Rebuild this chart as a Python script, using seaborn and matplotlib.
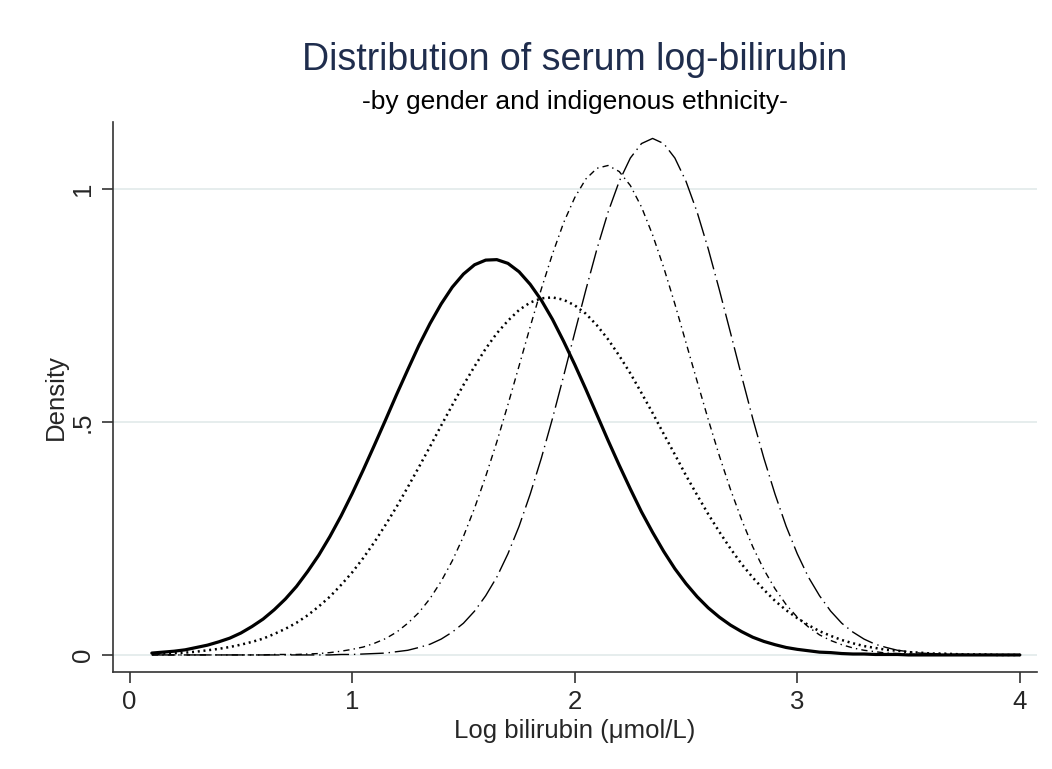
import numpy as np
import pandas as pd
import seaborn as sns
import matplotlib.pyplot as plt

# log bilirubin grid (umol/L, log scale) and the densities
x_vals = [round(0.10 + 0.05 * i, 2) for i in range(79)]

dens_solid = [0.004, 0.006, 0.008, 0.011, 0.016, 0.021, 0.028, 0.036, 0.047, 0.061,
              0.077, 0.097, 0.120, 0.147, 0.179, 0.214, 0.254, 0.298, 0.346, 0.397,
              0.450, 0.504, 0.559, 0.612, 0.664, 0.711, 0.753, 0.789, 0.817, 0.837,
              0.847, 0.848, 0.840, 0.822, 0.795, 0.761, 0.720, 0.673, 0.623, 0.570,
              0.515, 0.460, 0.407, 0.356, 0.307, 0.263, 0.222, 0.185, 0.153, 0.125,
              0.101, 0.081, 0.064, 0.050, 0.038, 0.029, 0.022, 0.016, 0.012, 0.009,
              0.006, 0.005, 0.003, 0.002, 0.002, 0.001, 0.001, 0.001, 0.000, 0.000,
              0.000, 0.000, 0.000, 0.000, 0.000, 0.000, 0.000, 0.000, 0.000]

dens_dotted = [0.002, 0.003, 0.004, 0.005, 0.007, 0.010, 0.013, 0.017, 0.022, 0.028,
               0.035, 0.045, 0.056, 0.069, 0.085, 0.104, 0.125, 0.150, 0.177, 0.208,
               0.242, 0.279, 0.318, 0.360, 0.403, 0.447, 0.492, 0.536, 0.579, 0.619,
               0.657, 0.690, 0.717, 0.740, 0.756, 0.765, 0.767, 0.762, 0.750, 0.732,
               0.707, 0.677, 0.642, 0.604, 0.562, 0.519, 0.474, 0.430, 0.385, 0.343,
               0.302, 0.264, 0.228, 0.195, 0.166, 0.140, 0.116, 0.096, 0.079, 0.064,
               0.051, 0.041, 0.032, 0.025, 0.019, 0.015, 0.011, 0.009, 0.006, 0.005,
               0.003, 0.003, 0.002, 0.001, 0.001, 0.001, 0.000, 0.000, 0.000]

dens_dashdot = [0.000, 0.000, 0.000, 0.000, 0.000, 0.000, 0.000, 0.000, 0.000, 0.000,
                0.000, 0.001, 0.001, 0.001, 0.002, 0.003, 0.005, 0.008, 0.012, 0.017,
                0.025, 0.035, 0.049, 0.068, 0.091, 0.121, 0.158, 0.202, 0.254, 0.315,
                0.383, 0.457, 0.537, 0.620, 0.704, 0.785, 0.860, 0.927, 0.981, 1.021,
                1.044, 1.050, 1.037, 1.007, 0.961, 0.901, 0.831, 0.753, 0.670, 0.587,
                0.505, 0.427, 0.355, 0.290, 0.232, 0.183, 0.142, 0.108, 0.081, 0.060,
                0.043, 0.031, 0.022, 0.015, 0.010, 0.007, 0.004, 0.003, 0.002, 0.001,
                0.001, 0.000, 0.000, 0.000, 0.000, 0.000, 0.000, 0.000, 0.000]

dens_longdash = [0.000, 0.000, 0.000, 0.000, 0.000, 0.000, 0.000, 0.000, 0.000, 0.000,
                 0.000, 0.000, 0.000, 0.000, 0.000, 0.000, 0.000, 0.001, 0.001, 0.002,
                 0.003, 0.004, 0.007, 0.010, 0.016, 0.023, 0.034, 0.049, 0.068, 0.094,
                 0.127, 0.167, 0.217, 0.276, 0.345, 0.422, 0.507, 0.598, 0.691, 0.783,
                 0.871, 0.950, 1.016, 1.066, 1.097, 1.108, 1.097, 1.066, 1.016, 0.950,
                 0.871, 0.783, 0.691, 0.598, 0.507, 0.422, 0.345, 0.276, 0.217, 0.167,
                 0.127, 0.094, 0.068, 0.049, 0.034, 0.023, 0.016, 0.010, 0.007, 0.004,
                 0.003, 0.002, 0.001, 0.001, 0.000, 0.000, 0.000, 0.000, 0.000]

x_ticks = [0, 1, 2, 3, 4]
y_ticks = [0, 0.5, 1]
y_tick_labels = ["0", ".5", "1"]

sns.set_style("white")
plt.rcParams["font.family"] = ["Liberation Sans", "DejaVu Sans"]

fig = plt.figure(figsize=(10.52, 7.69), dpi=100)
ax = fig.add_axes([0.1071, 0.1265, 0.8784, 0.7153])

# grid lines (light, behind curves)
for yv in y_ticks:
    ax.axhline(yv, color="#e6eded", lw=1.4, zorder=0)

sns.lineplot(x=x_vals, y=dens_solid, ax=ax, color="black", lw=2.3)
sns.lineplot(x=x_vals, y=dens_dotted, ax=ax, color="black", lw=1.8,
             linestyle=(0, (0.8, 1.5)))
sns.lineplot(x=x_vals, y=dens_dashdot, ax=ax, color="black", lw=1.0,
             linestyle=(0, (4.5, 3.0, 1.0, 3.0)))
sns.lineplot(x=x_vals, y=dens_longdash, ax=ax, color="black", lw=1.0,
             linestyle=(0, (17, 3.5, 1.0, 3.5)))

ax.set_xlim(-0.076, 4.076)
ax.set_ylim(-0.036, 1.144)
ax.set_xticks(x_ticks)
ax.set_yticks(y_ticks)
ax.set_yticklabels(y_tick_labels, rotation=90, va="center")
ax.tick_params(axis="both", direction="out", length=8, width=1.2, color="#333333",
               labelsize=18.5, pad=5, bottom=True, left=True)

for side in ["top", "right"]:
    ax.spines[side].set_visible(False)
for side in ["left", "bottom"]:
    ax.spines[side].set_color("#333333")
    ax.spines[side].set_linewidth(1.2)

ax.set_xlabel("Log bilirubin (μmol/L)", fontsize=18.5, labelpad=4)
ax.set_ylabel("Density", fontsize=18.5, labelpad=2)

fig.text(0.5463, 0.922, "Distribution of serum log-bilirubin", ha="center", va="center",
         fontsize=27, color="#1f2d4d")
fig.text(0.5463, 0.868, "-by gender and indigenous ethnicity-", ha="center", va="center",
         fontsize=19, color="black")

plt.savefig("out.png", dpi=100)
